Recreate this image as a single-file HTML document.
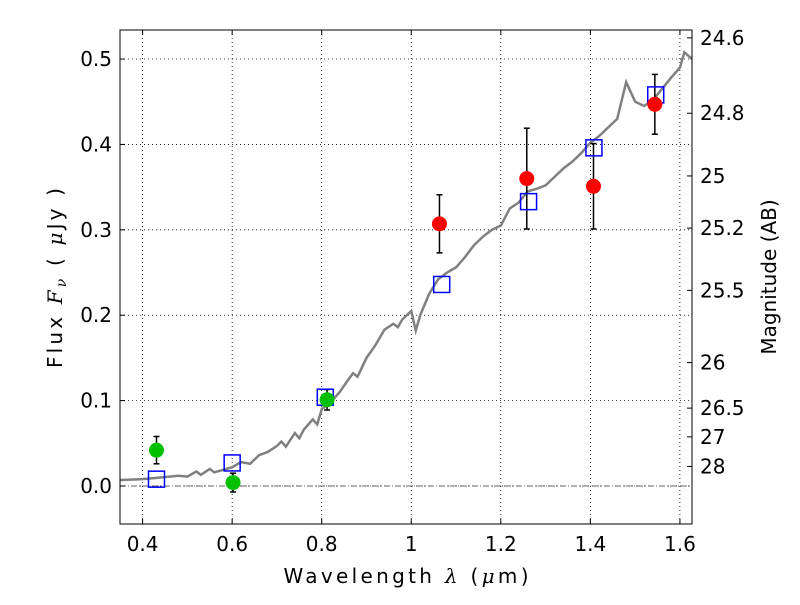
<!DOCTYPE html>
<html><head><meta charset="utf-8"><style>
body{margin:0;background:#fff;}
svg text{font-family:"DejaVu Sans","Liberation Sans",sans-serif;fill:#000;}
</style></head><body>
<svg id="chart" width="800" height="600" xmlns="http://www.w3.org/2000/svg">
<rect x="0" y="0" width="800" height="600" fill="#fff"/>
<g id="grid"></g>
<g id="marks"></g>
<rect x="120" y="30" width="572" height="494" fill="none" stroke="#000" stroke-width="1"/>
<g id="axes"></g>
<text x="406" y="583" font-size="20" text-anchor="middle" textLength="245" lengthAdjust="spacing">Wavelength  <tspan font-style="italic" font-family="DejaVu Serif,serif">λ</tspan> (<tspan font-style="italic" font-family="DejaVu Serif,serif">μ</tspan>m)</text>
<text transform="translate(62,278) rotate(-90)" font-size="20" text-anchor="middle" textLength="180" lengthAdjust="spacing">Flux  <tspan font-style="italic" font-family="DejaVu Serif,serif">F<tspan font-size="14" dy="4">ν</tspan></tspan><tspan dy="-4">  ( </tspan><tspan font-style="italic" font-family="DejaVu Serif,serif">μ</tspan>Jy )</text>
<text transform="translate(776,277) rotate(-90)" font-size="20" text-anchor="middle">Magnitude (AB)</text>
</svg>
<script>
const specX=[0.35,0.40,0.44,0.48,0.50,0.52,0.53,0.55,0.56,0.58,0.60,0.62,0.64,0.66,0.68,0.70,0.71,0.72,0.74,0.75,0.76,0.78,0.79,0.80,0.82,0.84,0.86,0.87,0.88,0.90,0.92,0.94,0.96,0.97,0.98,1.00,1.01,1.02,1.04,1.06,1.08,1.10,1.12,1.14,1.16,1.18,1.20,1.22,1.24,1.26,1.28,1.30,1.32,1.34,1.36,1.38,1.40,1.42,1.44,1.46,1.48,1.50,1.52,1.54,1.56,1.58,1.60,1.61,1.627];
const specY=[0.007,0.008,0.010,0.012,0.011,0.017,0.013,0.020,0.016,0.019,0.022,0.028,0.026,0.036,0.040,0.047,0.052,0.046,0.062,0.056,0.066,0.078,0.072,0.090,0.098,0.110,0.125,0.132,0.128,0.150,0.165,0.183,0.190,0.186,0.195,0.205,0.182,0.200,0.225,0.242,0.250,0.256,0.268,0.282,0.292,0.300,0.305,0.325,0.332,0.345,0.348,0.352,0.362,0.372,0.380,0.390,0.402,0.410,0.420,0.430,0.473,0.450,0.445,0.452,0.465,0.478,0.490,0.508,0.500];
const greenX=[0.431,0.602,0.812];
const greenY=[0.042,0.004,0.101];
const greenErr=[0.016,0.011,0.012];
const redX=[1.063,1.258,1.407,1.544];
const redY=[0.307,0.360,0.351,0.447];
const redErr=[0.034,0.059,0.050,0.035];
const modelX=[0.431,0.600,0.808,1.068,1.262,1.408,1.546];
const modelY=[0.008,0.027,0.104,0.236,0.333,0.396,0.458];
const xTicks=[0.4,0.6,0.8,1.0,1.2,1.4,1.6];
const xTickLabels=["0.4","0.6","0.8","1","1.2","1.4","1.6"];
const yTicks=[0.0,0.1,0.2,0.3,0.4,0.5];
const yTickLabels=["0.0","0.1","0.2","0.3","0.4","0.5"];
const magTicks=[24.6,24.8,25,25.2,25.5,26,26.5,27,28];
const magTickLabels=["24.6","24.8","25","25.2","25.5","26","26.5","27","28"];
const NS="http://www.w3.org/2000/svg";
const L=120,R=692,T=30,B=524,xmin=0.3495,xmax=1.627,ymin=-0.0445,ymax=0.534;
const sx=v=>L+(v-xmin)/(xmax-xmin)*(R-L);
const sy=v=>B-(v-ymin)/(ymax-ymin)*(B-T);
function mk(p,t,a){const e=document.createElementNS(NS,t);for(const k in a)e.setAttribute(k,a[k]);p.appendChild(e);return e;}
const grid=document.getElementById('grid'),marks=document.getElementById('marks'),axes=document.getElementById('axes');
xTicks.forEach((v,i)=>{const x=sx(v);
 const g=mk(grid,'line',{x1:x,x2:x,y1:T,y2:B,stroke:'#000','stroke-dasharray':'1,3','stroke-width':0.8});
 
 mk(axes,'line',{x1:x,x2:x,y1:B,y2:B-5,stroke:'#000'});mk(axes,'line',{x1:x,x2:x,y1:T,y2:T+5,stroke:'#000'});
 const t=mk(axes,'text',{x:x,y:B+27,'font-size':20,'text-anchor':'middle'});t.textContent=xTickLabels[i];
 });
yTicks.forEach((v,i)=>{const y=sy(v);
 const g=mk(grid,'line',{x1:L,x2:R,y1:y,y2:y,stroke:'#000','stroke-dasharray':'1,3','stroke-width':0.8});
 
 mk(axes,'line',{x1:L,x2:L+5,y1:y,y2:y,stroke:'#000'});
 const t=mk(axes,'text',{x:L-8,y:y+7,'font-size':20,'text-anchor':'end'});t.textContent=yTickLabels[i];
 });
magTicks.forEach((m,i)=>{const y=sy(Math.pow(10,-0.4*(m-23.9)));
 mk(axes,'line',{x1:R-5,x2:R,y1:y,y2:y,stroke:'#000'});
 const t=mk(axes,'text',{x:R+8,y:y+7,'font-size':20});t.textContent=magTickLabels[i];
 });
const z=mk(marks,'line',{x1:L,x2:R,y1:sy(0),y2:sy(0),stroke:'#666','stroke-dasharray':'6,2,1,2','stroke-width':1});

const sp=mk(marks,'polyline',{points:specX.map((x,i)=>sx(x)+','+sy(specY[i])).join(' '),fill:'none',stroke:'#808080','stroke-width':2.5});

function errs(X,Y,E){X.forEach((x,i)=>{const px=sx(x);
 const l=mk(marks,'line',{x1:px,x2:px,y1:sy(Y[i]-E[i]),y2:sy(Y[i]+E[i]),stroke:'#000','stroke-width':1.5});
 
 [Y[i]-E[i],Y[i]+E[i]].forEach(v=>mk(marks,'line',{x1:px-3,x2:px+3,y1:sy(v),y2:sy(v),stroke:'#000','stroke-width':1.5}));});}
errs(greenX,greenY,greenErr);errs(redX,redY,redErr);
modelX.forEach((x,i)=>{const r=mk(marks,'rect',{x:sx(x)-8,y:sy(modelY[i])-8,width:16,height:16,fill:'none',stroke:'#0000ff','stroke-width':1.5});
 });
greenX.forEach((x,i)=>{const c=mk(marks,'circle',{cx:sx(x),cy:sy(greenY[i]),r:7.5,fill:'#00c000'});
 });
redX.forEach((x,i)=>{const c=mk(marks,'circle',{cx:sx(x),cy:sy(redY[i]),r:7.5,fill:'#ff0000'});
 });
</script>
</body></html>
